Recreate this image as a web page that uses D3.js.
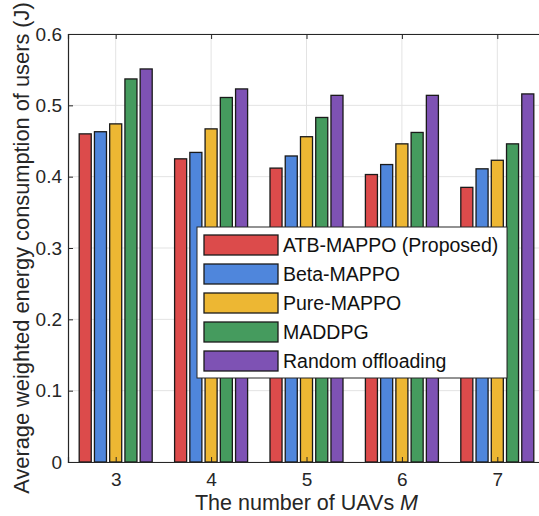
<!DOCTYPE html>
<html lang="en">
  <head>
    <meta charset="utf-8">
    <title>Energy consumption vs number of UAVs</title>
    <script src="https://cdn.jsdelivr.net/npm/d3@7"></script>
    <style>
      body { margin: 0; background: #fff; }
      svg { display: block; font-family: "Liberation Sans", Arial, Helvetica, sans-serif; }
    </style>
  </head>
  <body>
    <script>
     // data
     let uavCounts = [3, 4, 5, 6, 7];
     let seriesNames = ["ATB-MAPPO (Proposed)", "Beta-MAPPO", "Pure-MAPPO", "MADDPG", "Random offloading"];
     let atbMappo    = [0.460, 0.425, 0.412, 0.403, 0.385];
     let betaMappo   = [0.463, 0.434, 0.429, 0.417, 0.411];
     let pureMappo   = [0.474, 0.467, 0.456, 0.446, 0.423];
     let maddpg      = [0.537, 0.511, 0.483, 0.462, 0.446];
     let randomOff   = [0.551, 0.523, 0.514, 0.514, 0.516];
     let yTicks = [0, 0.1, 0.2, 0.3, 0.4, 0.5, 0.6];
     let colors = ["#dc4b4b", "#4f86dc", "#edb733", "#459b5e", "#7e52b4"];

     let allSeries = [atbMappo, betaMappo, pureMappo, maddpg, randomOff];

     let w = 539, h = 516;
     // right side of the axes is cut off in the original picture
     let margin = {top: 34, right: -6, bottom: 54, left: 68};
     let axisColor = "#262626";

     let svg = d3.select("body").append("svg")
                 .attr("width", w)
                 .attr("height", h);

     let xScale = d3.scalePoint()
                    .domain(uavCounts)
                    .range([margin.left, w - margin.right])
                    .padding(0.5);
     let groupW = 73;
     let innerScale = d3.scaleBand()
                        .domain(d3.range(seriesNames.length))
                        .range([-groupW / 2, groupW / 2])
                        .paddingInner(0.21);
     let yScale = d3.scaleLinear()
                    .domain([0, 0.6])
                    .range([h - margin.bottom, margin.top]);

     let x0 = margin.left, x1 = w - margin.right;
     let y0 = h - margin.bottom, y1 = margin.top;

     // grid lines
     svg.append("g").selectAll("line.gy")
        .data(yTicks)
        .enter().append("line")
        .attr("x1", x0).attr("x2", x1)
        .attr("y1", d => yScale(d)).attr("y2", d => yScale(d))
        .attr("stroke", "#e3e3e3").attr("stroke-width", 1);
     svg.append("g").selectAll("line.gx")
        .data(uavCounts)
        .enter().append("line")
        .attr("x1", d => xScale(d)).attr("x2", d => xScale(d))
        .attr("y1", y0).attr("y2", y1)
        .attr("stroke", "#e3e3e3").attr("stroke-width", 1);

     // bars
     let rows = uavCounts.map((m, i) => ({m: m, vals: allSeries.map(s => s[i])}));
     svg.append("g").selectAll("g")
        .data(rows)
        .enter().append("g")
        .attr("transform", d => "translate(" + xScale(d.m) + ",0)")
        .selectAll("rect")
        .data(d => d.vals)
        .enter().append("rect")
        .attr("x", (d, i) => innerScale(i))
        .attr("width", innerScale.bandwidth())
        .attr("y", d => yScale(d))
        .attr("height", d => yScale(0) - yScale(d))
        .attr("fill", (d, i) => colors[i])
        .attr("stroke", "#1a1a1a")
        .attr("stroke-width", 1.3);

     // axes box
     let yAxis = d3.axisLeft(yScale).tickValues(yTicks).tickSize(-5).tickPadding(6)
                   .tickFormat(d => d === 0 ? "0" : d3.format(".1f")(d));
     let xAxis = d3.axisBottom(xScale).tickSize(-5).tickPadding(11);
     let gy = svg.append("g").attr("transform", "translate(" + x0 + ",0)").call(yAxis);
     let gx = svg.append("g").attr("transform", "translate(0," + y0 + ")").call(xAxis);
     let gt = svg.append("g").attr("transform", "translate(0," + y1 + ")")
                 .call(d3.axisTop(xScale).tickSize(-5).tickFormat(""));
     [gx, gy, gt].forEach(g => {
       g.select(".domain").attr("stroke", axisColor).attr("stroke-width", 1.2);
       g.selectAll(".tick line").attr("stroke", axisColor);
       g.selectAll(".tick text").attr("fill", axisColor)
        .style("font-size", "19px")
        .style("font-family", "'Liberation Sans', Arial, sans-serif");
     });

     // axis titles
     let xTitle = svg.append("text")
                     .attr("x", (x0 + x1) / 2)
                     .attr("y", 510)
                     .attr("text-anchor", "middle")
                     .attr("fill", axisColor)
                     .style("font-size", "21.5px");
     xTitle.append("tspan").text("The number of UAVs ");
     xTitle.append("tspan").attr("font-style", "italic").text("M");

     svg.append("text")
        .attr("transform", "translate(29," + ((y0 + y1) / 2) + ") rotate(-90)")
        .attr("text-anchor", "middle")
        .attr("fill", axisColor)
        .style("font-size", "21.8px")
        .text("Average weighted energy consumption of users (J)");

     // legend
     let lg = svg.append("g").attr("transform", "translate(197,227)");
     lg.append("rect")
       .attr("width", 310).attr("height", 151)
       .attr("fill", "#fff")
       .attr("stroke", axisColor).attr("stroke-width", 1);
     let items = lg.selectAll("g.item")
                   .data(seriesNames)
                   .enter().append("g")
                   .attr("transform", (d, i) => "translate(0," + (18 + i * 29) + ")");
     items.append("rect")
          .attr("x", 7).attr("y", -10)
          .attr("width", 74).attr("height", 20)
          .attr("fill", (d, i) => colors[i])
          .attr("stroke", "#1a1a1a").attr("stroke-width", 1.3);
     items.append("text")
          .attr("x", 86).attr("y", 0)
          .attr("dy", "0.35em")
          .attr("fill", "#111")
          .style("font-size", "19.5px")
          .text(d => d);
    </script>
  </body>
</html>
